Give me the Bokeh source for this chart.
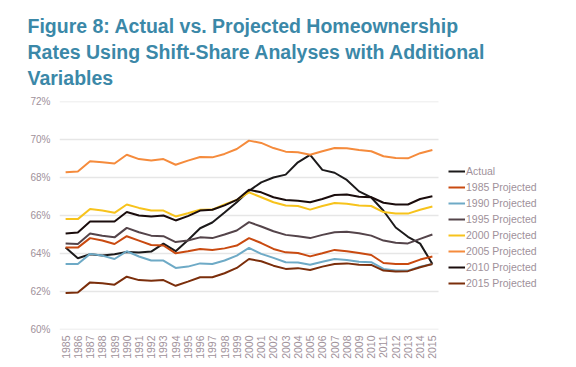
from bokeh.plotting import figure
from bokeh.models import Range1d, FixedTicker, Legend, LegendItem, Title, CustomJSTickFormatter
from bokeh.embed import file_html
from bokeh.resources import INLINE
import math

years = list(range(1985, 2016))

actual = [64.31, 63.75, 63.96, 63.90, 63.96, 64.08, 64.05, 64.10, 64.52, 64.12,
          64.70, 65.33, 65.63, 66.16, 66.70, 67.30, 67.74, 68.00, 68.15, 68.80,
          69.19, 68.40, 68.25, 67.87, 67.27, 66.95, 66.25, 65.37, 64.88, 64.52, 63.45]
proj_1985 = [64.31, 64.31, 64.81, 64.68, 64.50, 64.91, 64.68, 64.45, 64.42, 64.01,
             64.12, 64.24, 64.19, 64.27, 64.42, 64.81, 64.55, 64.24, 64.06, 64.03,
             63.85, 64.01, 64.19, 64.12, 64.03, 63.92, 63.50, 63.45, 63.45, 63.68, 63.84]
proj_1990 = [63.45, 63.45, 63.98, 63.89, 63.71, 64.12, 63.84, 63.63, 63.63, 63.24,
             63.31, 63.48, 63.45, 63.63, 63.89, 64.30, 63.98, 63.77, 63.54, 63.53,
             63.41, 63.57, 63.71, 63.66, 63.57, 63.54, 63.19, 63.10, 63.10, 63.31, 63.45]
proj_1995 = [64.53, 64.50, 65.05, 64.94, 64.85, 65.35, 65.12, 64.94, 64.91, 64.60,
             64.68, 64.85, 64.81, 65.00, 65.21, 65.65, 65.42, 65.17, 64.98, 64.91,
             64.81, 64.98, 65.12, 65.14, 65.07, 64.94, 64.68, 64.57, 64.53, 64.77, 65.00]
proj_2000 = [65.81, 65.81, 66.34, 66.26, 66.14, 66.58, 66.40, 66.26, 66.26, 65.95,
             66.12, 66.30, 66.31, 66.58, 66.82, 67.22, 66.96, 66.70, 66.53, 66.50,
             66.31, 66.50, 66.66, 66.62, 66.53, 66.50, 66.18, 66.10, 66.10, 66.30, 66.47]
proj_2005 = [68.27, 68.32, 68.85, 68.80, 68.74, 69.20, 68.97, 68.89, 68.97, 68.67,
             68.89, 69.08, 69.06, 69.24, 69.50, 69.94, 69.82, 69.55, 69.36, 69.33,
             69.20, 69.38, 69.55, 69.54, 69.45, 69.38, 69.12, 69.03, 69.01, 69.28, 69.45]
proj_2010 = [65.05, 65.10, 65.68, 65.68, 65.68, 66.18, 66.00, 65.95, 66.00, 65.74,
             65.97, 66.26, 66.30, 66.53, 66.82, 67.35, 67.22, 66.96, 66.82, 66.78,
             66.70, 66.87, 67.08, 67.10, 66.99, 66.96, 66.67, 66.58, 66.58, 66.87, 67.01]
proj_2015 = [61.92, 61.95, 62.48, 62.43, 62.36, 62.78, 62.60, 62.57, 62.60, 62.30,
             62.52, 62.75, 62.75, 62.96, 63.24, 63.71, 63.59, 63.36, 63.19, 63.23,
             63.13, 63.31, 63.45, 63.48, 63.41, 63.40, 63.10, 63.05, 63.07, 63.28, 63.45]

series_names = ["Actual", "1985 Projected", "1990 Projected", "1995 Projected",
                "2000 Projected", "2005 Projected", "2010 Projected", "2015 Projected"]
series_values = [actual, proj_1985, proj_1990, proj_1995, proj_2000, proj_2005, proj_2010, proj_2015]
series_colors = ["#1c1a1b", "#c94a10", "#6eaac6", "#54444a", "#f7c31c", "#f58b3c", "#1a0c0c", "#7b2e0b"]

y_ticks = [60, 62, 64, 66, 68, 70, 72]
title_text = ("Figure 8: Actual vs. Projected Homeownership\n"
              "Rates Using Shift-Share Analyses with Additional\n"
              "Variables")

text_color = "#a0919a"
font = "Liberation Sans"

# plot area: categories occupy the left 379 px; frame extended to the right to host the legend
cat_px = 379
frame_w = 498
x_start = years[0] - 0.5
x_end_cats = years[-1] + 0.5
x_end = x_start + (x_end_cats - x_start) * frame_w / cat_px

p = figure(frame_width=frame_w, frame_height=228, output_backend="svg", toolbar_location=None,
           x_range=Range1d(x_start, x_end), y_range=Range1d(60, 72),
           min_border_left=59, min_border_right=0, min_border_bottom=22, min_border_top=0)
p.outline_line_color = None
p.background_fill_color = "white"

p.add_layout(Title(text=title_text, text_font=font, text_font_size="19.5px", text_font_style="bold",
                   text_color="#3b88a8", text_line_height=1.18, offset=-32, standoff=25), "above")

# horizontal gridlines limited to the category area
p.segment(x0=[x_start] * len(y_ticks), x1=[x_end_cats] * len(y_ticks), y0=y_ticks, y1=y_ticks,
          line_color="#e6e6e6", line_width=1.5)

renderers = []
for name, vals, col in zip(series_names, series_values, series_colors):
    r = p.line(years, vals, line_color=col, line_width=2)
    renderers.append(r)

p.xaxis.ticker = FixedTicker(ticks=years)
p.xaxis.major_label_orientation = math.pi / 2
p.xaxis.major_label_text_font = font
p.xaxis.major_label_text_font_size = "10.5px"
p.xaxis.major_label_text_color = text_color
p.xaxis.axis_line_color = None
p.xaxis.major_tick_line_color = None
p.xaxis.minor_tick_line_color = None
p.xaxis.major_tick_out = 0
p.xaxis.major_tick_in = 0
p.xaxis.major_label_standoff = 6

p.yaxis.ticker = FixedTicker(ticks=y_ticks)
p.yaxis.formatter = CustomJSTickFormatter(code="return tick.toFixed(0) + '%';")
p.yaxis.major_label_text_font = font
p.yaxis.major_label_text_font_size = "10px"
p.yaxis.major_label_text_color = text_color
p.yaxis.axis_line_color = None
p.yaxis.major_tick_line_color = None
p.yaxis.minor_tick_line_color = None
p.yaxis.major_tick_out = 0
p.yaxis.major_tick_in = 0
p.yaxis.major_label_standoff = 9

p.xgrid.grid_line_color = None
p.ygrid.grid_line_color = None

legend = Legend(items=[LegendItem(label=n, renderers=[r]) for n, r in zip(series_names, renderers)],
                location=(389, 38), orientation="vertical",
                label_text_font=font, label_text_font_size="10.5px", label_text_color=text_color,
                glyph_width=17, glyph_height=16, label_height=16, label_standoff=1,
                spacing=0, padding=0, margin=0, border_line_color=None, background_fill_alpha=0)
p.add_layout(legend, "center")

open("out.html", "w").write(file_html(p, INLINE))
